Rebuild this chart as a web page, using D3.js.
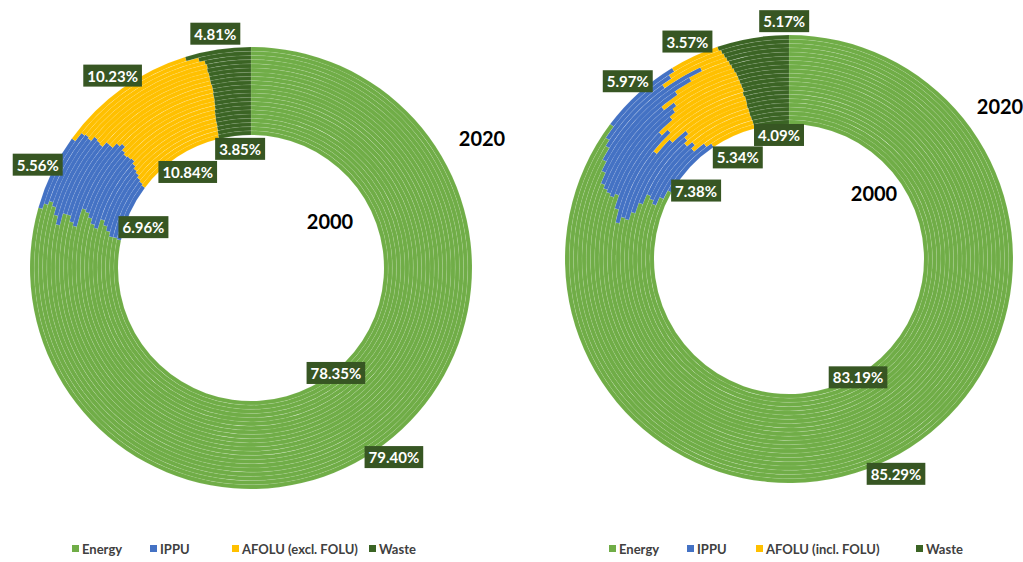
<!DOCTYPE html>
<html>
<head>
<meta charset="utf-8">
<script src="https://cdn.jsdelivr.net/npm/d3@7"></script>
<style>
  body { margin: 0; background: #fff; }
  text { font-family: Lato, "Open Sans", sans-serif; }
</style>
</head>
<body>
<svg id="chart" width="1023" height="562"></svg>
<script>
// one ring per year, innermost = 2000, outermost = 2020
var years = [2000, 2001, 2002, 2003, 2004, 2005, 2006, 2007, 2008, 2009, 2010,
	2011, 2012, 2013, 2014, 2015, 2016, 2017, 2018, 2019, 2020];
var sectors = ["Energy", "IPPU", "AFOLU", "Waste"];

// left chart: AFOLU excl. FOLU (shares in %)
var energyExcl = [78.35, 78.5, 78.5, 79.0, 79.5, 80.0, 79.0, 79.3, 79.8, 80.2, 80.4,
	78.7, 79.0, 79.5, 79.5, 78.5, 79.2, 79.8, 80.1, 79.8, 79.40];
var ippuExcl = [6.96, 7.0, 7.2, 7.0, 6.7, 6.5, 7.8, 7.4, 6.8, 6.6, 6.8,
	8.2, 7.4, 6.9, 6.4, 7.5, 6.9, 5.9, 5.7, 5.9, 5.56];
var afoluExcl = [10.84, 10.7, 10.55, 10.3, 10.1, 9.85, 9.6, 9.8, 9.95, 9.8, 9.4,
	9.75, 10.25, 10.2, 10.7, 10.6, 10.45, 10.9, 10.7, 10.4, 10.23];
var wasteExcl = [3.85, 3.8, 3.75, 3.7, 3.7, 3.65, 3.6, 3.5, 3.45, 3.4, 3.4,
	3.35, 3.35, 3.4, 3.4, 3.4, 3.45, 3.4, 3.5, 3.9, 4.81];

// right chart: AFOLU incl. FOLU (shares in %)
var energyIncl = [83.19, 82.1, 81.1, 81.5, 81.8, 80.7, 79.6, 78.8, 78.9, 78.3, 79.5,
	80.7, 80.4, 80.6, 80.8, 81.1, 82.0, 82.8, 83.8, 84.3, 85.29];
var ippuIncl = [7.38, 7.8, 7.4, 7.5, 6.5, 8.0, 9.6, 8.7, 6.8, 9.7, 7.8,
	8.2, 9.1, 9.3, 8.1, 9.4, 10.0, 10.3, 6.2, 6.5, 5.97];
var afoluIncl = [5.34, 6.0, 7.35, 6.8, 7.5, 7.05, 6.6, 8.3, 10.0, 7.8, 8.45,
	6.8, 6.15, 5.7, 6.6, 4.9, 3.3, 2.1, 5.1, 4.2, 3.57];
var wasteIncl = [4.09, 4.1, 4.15, 4.2, 4.2, 4.25, 4.2, 4.2, 4.3, 4.2, 4.25,
	4.3, 4.35, 4.4, 4.5, 4.6, 4.7, 4.8, 4.9, 5.0, 5.17];

var colors = ["#70ad47", "#4472c4", "#ffc000", "#3b6424"];
var labelFill = "#375623";

var charts = [
	{ cx: 251, cy: 268, inner: 133, outer: 221,
	  series: [energyExcl, ippuExcl, afoluExcl, wasteExcl],
	  legendNames: ["Energy", "IPPU", "AFOLU (excl. FOLU)", "Waste"],
	  legendX: [72, 150, 232, 369],
	  yearPos: { inner: [79, -47], outer: [231, -130] },
	  nudge: { "inner-1": [-3, 7], "inner-3": [3, -5] } },
	{ cx: 789, cy: 259, inner: 135, outer: 224,
	  series: [energyIncl, ippuIncl, afoluIncl, wasteIncl],
	  legendNames: ["Energy", "IPPU", "AFOLU (incl. FOLU)", "Waste"],
	  legendX: [609, 687, 756, 916],
	  yearPos: { inner: [85, -66], outer: [211, -153] },
	  nudge: { "outer-3": [34, -1], "inner-1": [-7, 11], "inner-2": [-3, 5], "inner-3": [5, -8] } }
];

var svg = d3.select("#chart");

var pie = d3.pie().sort(null).value(function (d) { return d; });

function addLabel(g, x, y, txt) {
	var lg = g.append("g");
	var t = lg.append("text")
		.attr("x", x)
		.attr("y", y)
		.attr("text-anchor", "middle")
		.attr("dominant-baseline", "central")
		.style("font-size", "15px")
		.style("font-weight", "bold")
		.style("fill", "#fff")
		.text(txt);
	var w = t.node().getComputedTextLength() + 8;
	lg.insert("rect", "text")
		.attr("x", x - w / 2)
		.attr("y", y - 11)
		.attr("width", w)
		.attr("height", 22)
		.style("fill", labelFill);
}

charts.forEach(function (c) {
	var g = svg.append("g");
	var ringScale = d3.scaleLinear()
		.domain([0, years.length])
		.range([c.inner, c.outer]);

	var plot = g.append("g").attr("transform", "translate(" + c.cx + "," + c.cy + ")");

	years.forEach(function (yr, i) {
		var vals = c.series.map(function (s) { return s[i]; });
		var arc = d3.arc()
			.innerRadius(ringScale(i))
			.outerRadius(ringScale(i + 1));
		plot.append("g").selectAll("path")
			.data(pie(vals))
			.enter().append("path")
			.attr("d", arc)
			.style("fill", function (d, k) { return colors[k]; })
			.style("stroke", "#ffffff")
			.style("stroke-opacity", 0.14)
			.style("stroke-width", 0.5);
	});

	// data labels for first and last year
	var first = pie(c.series.map(function (s) { return s[0]; }));
	var last = pie(c.series.map(function (s) { return s[years.length - 1]; }));

	first.forEach(function (d, k) {
		var a = (d.startAngle + d.endAngle) / 2;
		var r = k == 0 ? c.inner + 2 : c.inner - 18;
		var n = c.nudge["inner-" + k] || [0, 0];
		addLabel(g, c.cx + r * Math.sin(a) + n[0], c.cy - r * Math.cos(a) + n[1],
			d.data.toFixed(2) + "%");
	});
	last.forEach(function (d, k) {
		var a = (d.startAngle + d.endAngle) / 2;
		var r = c.outer + 16;
		var n = c.nudge["outer-" + k] || [0, 0];
		addLabel(g, c.cx + r * Math.sin(a) + n[0], c.cy - r * Math.cos(a) + n[1],
			d.data.toFixed(2) + "%");
	});

	// series names
	[["inner", years[0]], ["outer", years[years.length - 1]]].forEach(function (p) {
		g.append("text")
			.attr("x", c.cx + c.yearPos[p[0]][0])
			.attr("y", c.cy + c.yearPos[p[0]][1])
			.attr("text-anchor", "middle")
			.attr("dominant-baseline", "central")
			.style("font-size", "20px")
			.style("font-weight", "bold")
			.style("fill", "#000")
			.text(p[1]);
	});

	// legend
	var leg = g.append("g").attr("transform", "translate(0,549)");
	c.legendNames.forEach(function (name, k) {
		leg.append("rect")
			.attr("x", c.legendX[k])
			.attr("y", -4)
			.attr("width", 7)
			.attr("height", 7)
			.style("fill", colors[k]);
		leg.append("text")
			.attr("x", c.legendX[k] + 10)
			.attr("y", 0)
			.attr("dominant-baseline", "central")
			.style("font-size", "13px")
			.style("font-weight", "bold")
			.style("fill", "#404040")
			.text(name);
	});
});
</script>
</body>
</html>
